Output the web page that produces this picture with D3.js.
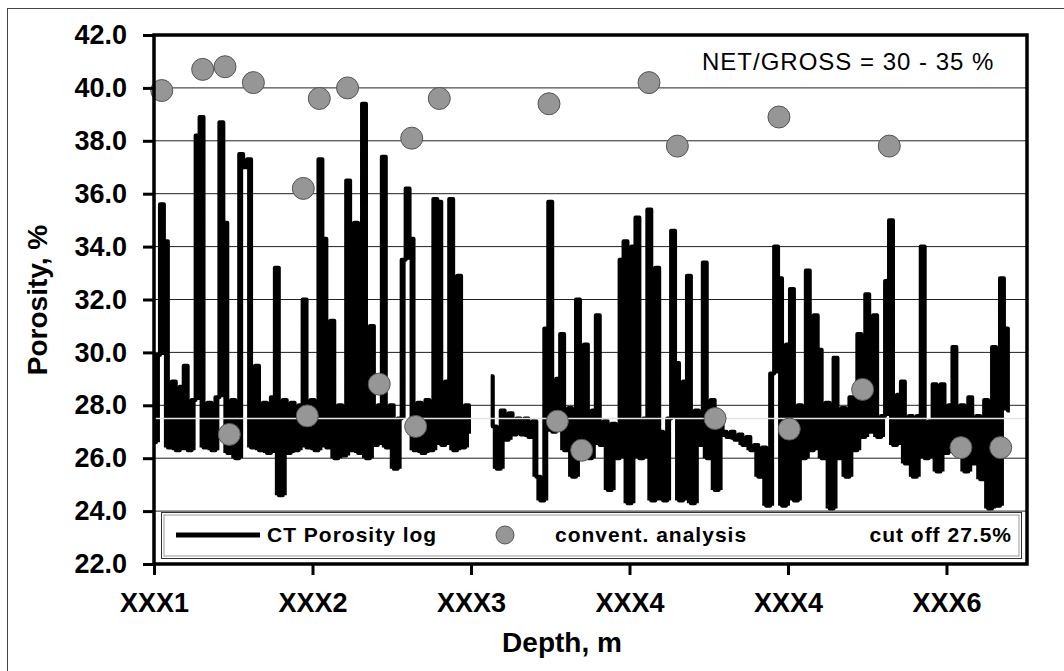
<!DOCTYPE html>
<html>
<head>
<meta charset="utf-8">
<script src="https://cdn.jsdelivr.net/npm/d3@7"></script>
<style>
  body { margin: 0; background: #fff; }
  text { font-family: Arial, "Liberation Sans", sans-serif; }
</style>
</head>
<body>
<div id="chart-area"></div>
<script>
// tick labels
const xTickValues = [0, 1, 2, 3, 4, 5]
const xTickLabels = ["XXX1", "XXX2", "XXX3", "XXX4", "XXX4", "XXX6"]
const yTickValues = [22, 24, 26, 28, 30, 32, 34, 36, 38, 40, 42]
const gridValues = [24, 26, 28, 30, 32, 34, 36, 38, 40]
const cutOff = 27.5

// conventional analysis (depth in tick units, porosity %)
const coreDepth = [0.049, 0.307, 0.448, 0.627, 0.942, 1.043, 1.221, 1.626, 1.800, 2.492, 3.123, 3.302, 3.943, 4.639,
  0.475, 0.967, 1.421, 1.651, 2.545, 2.698, 3.540, 4.008, 4.471, 5.091, 5.342]
const corePorosity = [39.9, 40.7, 40.8, 40.2, 36.2, 39.6, 40.0, 38.1, 39.6, 39.4, 40.2, 37.8, 38.9, 37.8,
  26.9, 27.6, 28.8, 27.2, 27.4, 26.3, 27.5, 27.1, 28.6, 26.4, 26.4]

// CT porosity log, sampled every logStep from logStart (null = no data)
const logStart = 0
const logStep = 0.025
const logPorosity = [
  26.6, 29.9, 35.6, 34.2, 26.4, 28.9, 26.3, 28.7, 29.5, 26.3,
  28.2, 38.2, 38.9, 26.4, 28.1, 26.3, 28.3, 38.7, 34.9, 26.2,
  28.2, 26.0, 37.5, 37.0, 37.3, 26.4, 29.5, 26.3, 28.1, 26.2,
  28.3, 33.2, 24.6, 28.2, 26.2, 28.1, 26.3, 28.0, 32.0, 26.4,
  28.2, 26.3, 37.3, 34.3, 26.4, 31.2, 26.0, 28.0, 26.1, 36.5,
  26.3, 34.9, 26.2, 39.4, 26.0, 31.0, 26.5, 28.0, 37.4, 26.4,
  28.0, 25.6, 27.5, 33.5, 36.2, 34.3, 26.3, 28.1, 26.2, 28.2,
  26.3, 35.8, 35.7, 26.5, 28.9, 35.8, 26.3, 32.9, 26.4, 28.0,
  27.0, null, null, null, null, 29.1, 27.2, 25.6, 27.8, 26.7,
  27.7, 26.9, 27.5, 26.9, 27.5, 26.8, 27.4, 25.3, 24.4, 30.9,
  35.7, 27.0, 29.0, 30.7, 26.3, 27.9, 25.3, 32.0, 26.5, 30.3,
  26.0, 27.8, 31.4, 26.5, 27.4, 24.8, 27.3, 26.0, 33.5, 34.2,
  24.3, 34.0, 35.1, 26.0, 27.5, 35.4, 24.4, 33.2, 27.0, 24.4,
  27.5, 34.6, 29.6, 24.4, 28.9, 32.9, 24.3, 27.8, 26.5, 33.4,
  26.0, 28.2, 24.8, 27.6, 27.0, 26.8, 27.0, 26.7, 26.9, 26.5,
  26.8, 26.3, 26.5, 25.3, 26.4, 24.2, 29.2, 34.0, 32.8, 24.2,
  30.3, 32.4, 24.4, 28.0, 26.0, 33.1, 26.3, 31.4, 30.1, 26.0,
  28.1, 24.1, 29.8, 26.0, 27.9, 25.3, 28.3, 26.3, 30.7, 26.8,
  32.2, 27.0, 31.4, 26.8, 27.6, 32.7, 35.0, 26.5, 28.4, 28.9,
  25.8, 27.6, 25.3, 27.6, 34.0, 26.0, 27.4, 28.8, 25.5, 28.8,
  26.2, 28.0, 30.2, 26.2, 28.0, 25.5, 28.3, 25.8, 27.6, 25.2,
  28.2, 24.1, 30.2, 24.2, 32.8, 30.9, 27.8
]

const MARGIN = { LEFT: 154, RIGHT: 37, TOP: 35, BOTTOM: 107 }
const WIDTH = 1064 - MARGIN.LEFT - MARGIN.RIGHT
const HEIGHT = 671 - MARGIN.TOP - MARGIN.BOTTOM

const svg = d3.select("#chart-area")
  .append("svg")
    .attr("width", 1064)
    .attr("height", 671)

// outer frame (runs off the picture on the right and bottom)
svg.append("rect")
  .attr("x", 7.5)
  .attr("y", 8.5)
  .attr("width", 1100)
  .attr("height", 700)
  .attr("fill", "none")
  .attr("stroke", "#444")
  .attr("stroke-width", 1)

const g = svg.append("g")
  .attr("transform", `translate(${MARGIN.LEFT}, ${MARGIN.TOP})`)

const x = d3.scaleLinear()
  .domain([0, 5.508])
  .range([0, WIDTH])

const y = d3.scaleLinear()
  .domain([22, 42])
  .range([HEIGHT, 0])

// horizontal gridlines
g.selectAll("line.grid")
  .data(gridValues)
  .enter().append("line")
    .attr("class", "grid")
    .attr("x1", 0)
    .attr("x2", WIDTH)
    .attr("y1", d => y(d))
    .attr("y2", d => y(d))
    .attr("stroke", "#222")
    .attr("stroke-width", 1)

// CT log - steps plus a fill down to the nearest low so wide spikes stay solid
const logData = logPorosity.map((v, i) => {
  const near = [logPorosity[i - 1], v, logPorosity[i + 1]].filter(p => p != null)
  return { depth: logStart + i * logStep, porosity: v, low: d3.min(near) }
})

const area = d3.area()
  .defined(d => d.porosity !== null)
  .x(d => x(d.depth))
  .y0(d => y(d.low))
  .y1(d => y(d.porosity))
  .curve(d3.curveStep)

const line = d3.line()
  .defined(d => d.porosity !== null)
  .x(d => x(d.depth))
  .y(d => y(d.porosity))
  .curve(d3.curveStep)

g.append("path")
  .datum(logData)
  .attr("d", area)
  .attr("fill", "#000")

g.append("path")
  .datum(logData)
  .attr("d", line)
  .attr("fill", "none")
  .attr("stroke", "#000")
  .attr("stroke-width", 4)
  .attr("stroke-linejoin", "round")

// cut off line
g.append("line")
  .attr("x1", 0)
  .attr("x2", WIDTH)
  .attr("y1", y(cutOff))
  .attr("y2", y(cutOff))
  .attr("stroke", "#e4e4e4")
  .attr("stroke-width", 1.5)

// conventional analysis points
g.selectAll("circle.core")
  .data(coreDepth.map((d, i) => ({ depth: d, porosity: corePorosity[i] })))
  .enter().append("circle")
    .attr("class", "core")
    .attr("cx", d => x(d.depth))
    .attr("cy", d => y(d.porosity))
    .attr("r", 11)
    .attr("fill", "#969696")
    .attr("stroke", "#555")
    .attr("stroke-width", 1)

// y axis
const yAxis = g.append("g")
  .attr("class", "y axis")
  .call(d3.axisLeft(y)
    .tickValues(yTickValues)
    .tickFormat(d3.format(".1f"))
    .tickSize(11)
    .tickPadding(16))
yAxis.select(".domain").remove()
yAxis.selectAll("line").attr("stroke", "#000").attr("stroke-width", 3)
yAxis.selectAll("text")
  .attr("font-family", "Arial, 'Liberation Sans', sans-serif")
  .attr("font-size", "27px")
  .attr("font-weight", "bold")
  .attr("fill", "#000")

// x axis
const xAxis = g.append("g")
  .attr("class", "x axis")
  .attr("transform", `translate(0, ${HEIGHT})`)
  .call(d3.axisBottom(x)
    .tickValues(xTickValues)
    .tickFormat((d, i) => xTickLabels[i])
    .tickSize(11)
    .tickPadding(18))
xAxis.select(".domain").remove()
xAxis.selectAll("line").attr("stroke", "#000").attr("stroke-width", 3)
xAxis.selectAll("text")
  .attr("font-family", "Arial, 'Liberation Sans', sans-serif")
  .attr("font-size", "27px")
  .attr("font-weight", "bold")
  .attr("fill", "#000")

// plot frame
g.append("rect")
  .attr("x", 0)
  .attr("y", 0)
  .attr("width", WIDTH)
  .attr("height", HEIGHT)
  .attr("fill", "none")
  .attr("stroke", "#000")
  .attr("stroke-width", 3.5)

// NET/GROSS note
g.append("text")
  .attr("x", 702 - MARGIN.LEFT)
  .attr("y", 70 - MARGIN.TOP)
  .attr("font-size", "24px")
  .attr("letter-spacing", "1px")
  .attr("fill", "#000")
  .text("NET/GROSS = 30 - 35 %")

// legend
const legend = g.append("g")
  .attr("transform", `translate(${161 - MARGIN.LEFT}, ${512 - MARGIN.TOP})`)
legend.append("rect")
  .attr("x", 0.5).attr("y", 0.5)
  .attr("width", 860).attr("height", 46)
  .attr("fill", "#fff")
  .attr("stroke", "#333")
legend.append("rect")
  .attr("x", 3).attr("y", 3)
  .attr("width", 855).attr("height", 41)
  .attr("fill", "none")
  .attr("stroke", "#999")
legend.append("line")
  .attr("x1", 15).attr("x2", 99)
  .attr("y1", 23).attr("y2", 23)
  .attr("stroke", "#000")
  .attr("stroke-width", 5)
legend.append("circle")
  .attr("cx", 344).attr("cy", 23).attr("r", 9)
  .attr("fill", "#969696")
  .attr("stroke", "#555")
const legendText = [
  { label: "CT Porosity log", x: 106, anchor: "start" },
  { label: "convent. analysis", x: 394, anchor: "start" },
  { label: "cut off 27.5%", x: 851, anchor: "end" }
]
legend.selectAll("text")
  .data(legendText)
  .enter().append("text")
    .attr("x", d => d.x)
    .attr("y", 30)
    .attr("text-anchor", d => d.anchor)
    .attr("font-size", "21px")
    .attr("font-weight", "bold")
    .attr("letter-spacing", "1px")
    .text(d => d.label)

// axis titles
g.append("text")
  .attr("x", 562 - MARGIN.LEFT)
  .attr("y", 652 - MARGIN.TOP)
  .attr("text-anchor", "middle")
  .attr("font-size", "28px")
  .attr("font-weight", "bold")
  .text("Depth, m")

g.append("text")
  .attr("transform", `translate(${47 - MARGIN.LEFT}, ${300 - MARGIN.TOP}) rotate(-90)`)
  .attr("text-anchor", "middle")
  .attr("font-size", "28px")
  .attr("font-weight", "bold")
  .text("Porosity, %")
</script>
</body>
</html>
